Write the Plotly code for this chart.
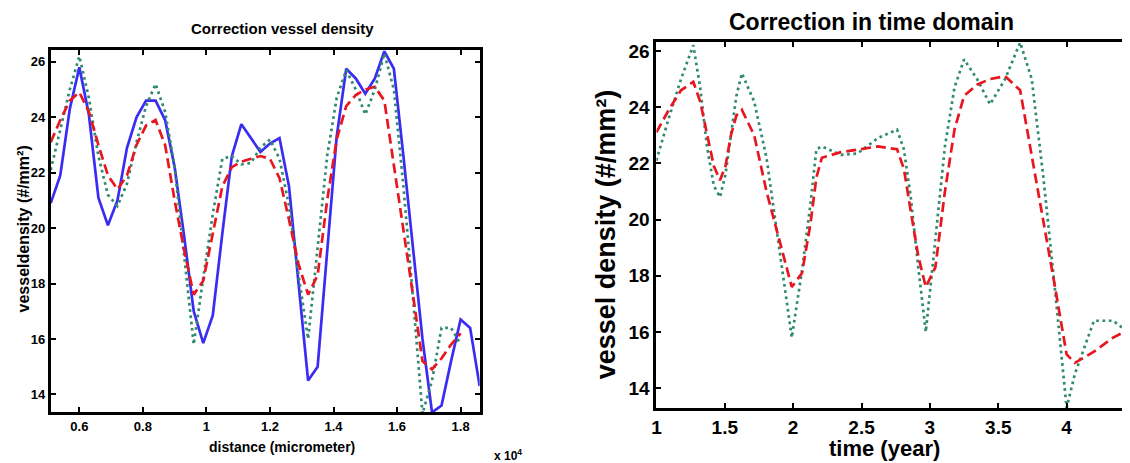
import plotly.graph_objects as go

# ---------------- data ----------------
# distance (micrometer) sampling of the left panel
distance_um = [5100, 5400, 5700, 6000, 6300, 6600, 6900, 7200, 7500, 7800,
               8100, 8400, 8700, 9000, 9300, 9600, 9900, 10200, 10500, 10800,
               11100, 11400, 11700, 12000, 12300, 12600, 12900, 13200, 13500, 13800,
               14100, 14400, 14700, 15000, 15300, 15600, 15900, 16200, 16500, 16800,
               17100, 17400, 17700, 18000, 18300, 18600]

# blue solid: raw vessel density
density_raw = [20.9, 21.9, 24.3, 25.8, 24.1, 21.1, 20.1, 21.0, 22.9, 24.0,
               24.6, 24.6, 23.9, 22.2, 19.7, 17.0, 15.85, 16.85, 19.8, 22.6,
               23.75, 23.25, 22.75, 23.05, 23.25, 21.5, 18.0, 14.5, 15.0, 19.2,
               23.3, 25.75, 25.4, 24.85, 25.4, 26.38, 25.75, 22.6, 19.2, 16.0,
               13.35, 13.6, 15.2, 16.7, 16.4, 14.3]

# green dotted / red dashed series (44 samples)
density_corr = [22.1, 23.6, 25.0, 26.2, 24.7, 22.6, 21.2, 20.8, 21.6, 23.1,
                24.4, 25.2, 24.2, 22.2, 19.0, 15.8, 18.2, 20.5, 22.5, 22.6,
                22.3, 22.35, 22.9, 23.2, 22.5, 20.8, 18.3, 16.0, 19.3, 22.6,
                24.7, 25.7, 25.0, 24.1, 25.0, 26.3, 25.0, 21.5, 17.5, 13.3,
                14.5, 16.4, 16.4, 15.8]

density_smooth = [23.1, 23.9, 24.6, 24.9, 24.2, 23.0, 21.9, 21.4, 21.9, 23.0,
                  23.7, 23.9, 23.0, 21.0, 19.2, 17.6, 18.1, 19.8, 21.5, 22.2,
                  22.4, 22.5, 22.6, 22.5, 21.8, 20.3, 18.7, 17.6, 18.3, 21.0,
                  23.2, 24.4, 24.8, 25.0, 25.1, 24.6, 22.3, 20.0, 17.6, 15.2,
                  14.9, 15.3, 15.8, 16.2]

# time (year) positions of the same 44 samples in the right panel
time_year = [1.00, 1.09, 1.18, 1.27, 1.32, 1.37, 1.42, 1.465, 1.505, 1.545,
             1.585, 1.625, 1.715, 1.805, 1.90, 1.99, 2.065, 2.125, 2.17, 2.21,
             2.35, 2.47, 2.62, 2.76, 2.81, 2.86, 2.915, 2.97, 3.04, 3.11,
             3.18, 3.25, 3.345, 3.44, 3.55, 3.66, 3.745, 3.83, 3.915, 4.00,
             4.06, 4.20, 4.34, 4.50]

dist_ticks = [6000, 8000, 10000, 12000, 14000, 16000, 18000]
dist_tick_text = ["0.6", "0.8", "1", "1.2", "1.4", "1.6", "1.8"]
time_ticks = [1, 1.5, 2, 2.5, 3, 3.5, 4]
time_tick_text = ["1", "1.5", "2", "2.5", "3", "3.5", "4"]
dens_ticks = [14, 16, 18, 20, 22, 24, 26]

BLUE = "#3a2cf2"
RED = "#e8161f"
GREEN = "#2f8a70"
FONT = "Liberation Sans, Arial, sans-serif"

W, H = 1130, 463

def px_x(p):
    return p / W

def px_y(p):
    return 1 - p / H

fig = go.Figure()

n = len(density_corr)
fig.add_trace(go.Scatter(x=distance_um, y=density_raw, mode="lines",
                         line=dict(color=BLUE, width=2.7), xaxis="x", yaxis="y",
                         showlegend=False))
fig.add_trace(go.Scatter(x=distance_um[:n], y=density_corr, mode="lines",
                         line=dict(color=GREEN, width=2.7, dash="2.7px,3.6px"),
                         xaxis="x", yaxis="y", showlegend=False))
fig.add_trace(go.Scatter(x=distance_um[:n], y=density_smooth, mode="lines",
                         line=dict(color=RED, width=2.7, dash="10px,5px"),
                         xaxis="x", yaxis="y", showlegend=False))

fig.add_trace(go.Scatter(x=time_year, y=density_corr, mode="lines",
                         line=dict(color=GREEN, width=2.7, dash="2.7px,3.6px"),
                         xaxis="x2", yaxis="y2", showlegend=False))
fig.add_trace(go.Scatter(x=time_year, y=density_smooth, mode="lines",
                         line=dict(color=RED, width=2.7, dash="10px,5px"),
                         xaxis="x2", yaxis="y2", showlegend=False))

axis_common = dict(showline=True, linecolor="black", linewidth=3, mirror="allticks",
                   ticks="inside", ticklen=5, tickwidth=2, tickcolor="black",
                   showgrid=False, zeroline=False)

fig.update_layout(
    width=W, height=H,
    margin=dict(l=0, r=0, t=0, b=0),
    paper_bgcolor="white", plot_bgcolor="white",
    xaxis=dict(domain=[px_x(38), px_x(470)], range=[5100, 18600],
               tickvals=dist_ticks, ticktext=dist_tick_text,
               tickfont=dict(family=FONT, size=13, color="black", weight="bold"),
               anchor="y", **axis_common),
    yaxis=dict(domain=[px_y(404), px_y(41)], range=[13.36, 26.43],
               tickvals=dens_ticks,
               tickfont=dict(family=FONT, size=13, color="black", weight="bold"),
               anchor="x", **axis_common),
    xaxis2=dict(domain=[px_x(648), px_x(1130)], range=[1, 4.5],
                tickvals=time_ticks, ticktext=time_tick_text,
                tickfont=dict(family=FONT, size=19, color="black", weight="bold"),
                anchor="y2", **axis_common),
    yaxis2=dict(domain=[px_y(400), px_y(33)], range=[13.29, 26.32],
                tickvals=dens_ticks,
                tickfont=dict(family=FONT, size=19, color="black", weight="bold"),
                anchor="x2", **axis_common),
)

def note(text, x, y, size, angle=0, xanchor="center", yanchor="middle"):
    fig.add_annotation(text=text, x=px_x(x), y=px_y(y), xref="paper", yref="paper",
                       showarrow=False, textangle=angle, xanchor=xanchor, yanchor=yanchor,
                       font=dict(family=FONT, size=size, color="black", weight="bold"))

note("Correction vessel density", 271, 20, 15)
note("distance (micrometer)", 271, 439, 14)
note("x 10<sup>4</sup>", 499, 447, 12)
note("vesseldensity (#/mm²)", 11, 220, 16, angle=-90)

note("Correction in time domain", 865, 13, 23)
note("time (year)", 878, 440, 22)
note("vessel density (#/mm²)", 597, 226, 27, angle=-90)

fig.write_html("out.html")
